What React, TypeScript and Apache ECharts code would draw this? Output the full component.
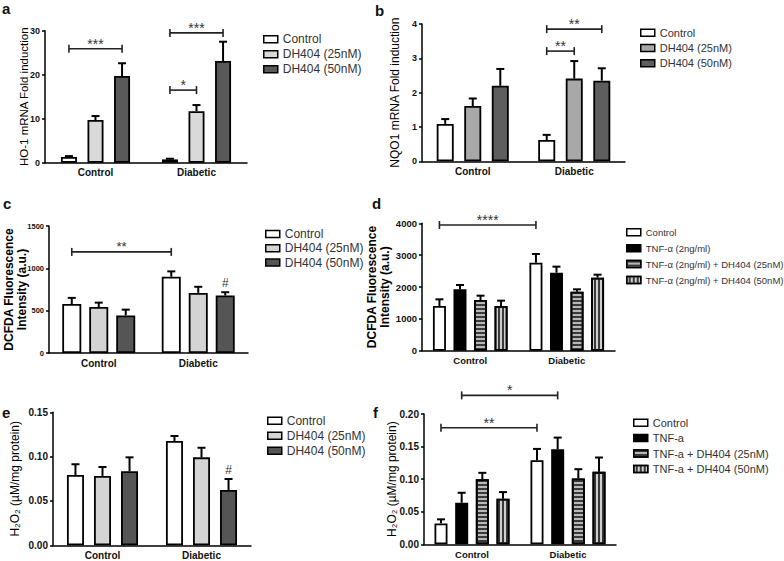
import { useEffect, useRef } from 'react';
import * as echarts from 'echarts';

const FONT = '"Liberation Sans", Arial, Helvetica, sans-serif';
const groupLabels = ['Control', 'Diabetic'];

// ---- Panel a: HO-1 mRNA fold induction
const aNames = ['Control', 'DH404 (25nM)', 'DH404 (50nM)'];
const aMean = [[1.3, 0.75], [9.7, 11.7], [19.7, 23.1]];
const aSem = [[0.2, 0.15], [0.9, 1.4], [2.9, 4.4]];
const aTicks = [0, 10, 20, 30];
const aBrackets = [
  { from: [0, 0], to: [0, 2], y: 25.9, label: '***' },
  { from: [1, 0], to: [1, 2], y: 29.5, label: '***' },
  { from: [1, 0], to: [1, 1], y: 16.5, label: '*' },
];

// ---- Panel b: NQO1 mRNA fold induction
const bNames = ['Control', 'DH404 (25nM)', 'DH404 (50nM)'];
const bMean = [[1.09, 0.62], [1.61, 2.41], [2.2, 2.35]];
const bSem = [[0.14, 0.15], [0.22, 0.51], [0.49, 0.36]];
const bTicks = [0, 1, 2, 3, 4];
const bBrackets = [
  { from: [1, 0], to: [1, 2], y: 3.85, label: '**' },
  { from: [1, 0], to: [1, 1], y: 3.21, label: '**' },
];

// ---- Panel c: DCFDA fluorescence
const cNames = ['Control', 'DH404 (25nM)', 'DH404 (50nM)'];
const cMean = [[579, 901], [544, 710], [444, 679]];
const cSem = [[72, 63], [51, 72], [68, 39]];
const cTicks = [0, 500, 1000, 1500];
const cBrackets = [{ from: [0, 0], to: [1, 0], y: 1194, label: '**' }];
const cMarks = [{ at: [1, 2], label: '#' }];

// ---- Panel d: DCFDA fluorescence with TNF-α
const dNames = ['Control', 'TNF-α (2ng/ml)', 'TNF-α (2ng/ml) + DH404 (25nM)', 'TNF-α (2ng/ml) + DH404 (50nM)'];
const dMean = [[1403, 2764], [1927, 2450], [1592, 1853], [1403, 2293]];
const dSem = [[210, 273], [136, 189], [136, 74], [168, 94]];
const dTicks = [0, 1000, 2000, 3000, 4000];
const dBrackets = [{ from: [0, 0], to: [1, 0], y: 3948, label: '****' }];

// ---- Panel e: H2O2
const eNames = ['Control', 'DH404 (25nM)', 'DH404 (50nM)'];
const eMean = [[0.0793, 0.1177], [0.0782, 0.0992], [0.0835, 0.0624]];
const eSem = [[0.0121, 0.0056], [0.0101, 0.0108], [0.0157, 0.0124]];
const eTicks = [0, 0.05, 0.1, 0.15];
const eMarks = [{ at: [1, 2], label: '#' }];

// ---- Panel f: H2O2 with TNF-a
const fNames = ['Control', 'TNF-a', 'TNF-a + DH404 (25nM)', 'TNF-a + DH404 (50nM)'];
const fMean = [[0.0321, 0.129], [0.0638, 0.1459], [0.1, 0.101], [0.0699, 0.1112]];
const fSem = [[0.0062, 0.0174], [0.0153, 0.0179], [0.0097, 0.0143], [0.0102, 0.022]];
const fTicks = [0, 0.05, 0.1, 0.15, 0.2];
const fBrackets = [
  { from: [0, 0], to: [1, 0], y: 0.179, label: '**' },
  { from: [0, 1], to: [1, 1], y: 0.2286, label: '*' },
];

const panelData = [
  { key: 'a', names: aNames, mean: aMean, sem: aSem, ticks: aTicks, decimals: 0, brackets: aBrackets, marks: [], title: 'HO-1 mRNA Fold induction' },
  { key: 'b', names: bNames, mean: bMean, sem: bSem, ticks: bTicks, decimals: 0, brackets: bBrackets, marks: [], title: 'NQO1 mRNA Fold induction' },
  { key: 'c', names: cNames, mean: cMean, sem: cSem, ticks: cTicks, decimals: 0, brackets: cBrackets, marks: cMarks, title: 'DCFDA Fluorescence\nIntensity (a.u.)' },
  { key: 'd', names: dNames, mean: dMean, sem: dSem, ticks: dTicks, decimals: 0, brackets: dBrackets, marks: [], title: 'DCFDA Fluorescence\nIntensity (a.u.)' },
  { key: 'e', names: eNames, mean: eMean, sem: eSem, ticks: eTicks, decimals: 2, brackets: [], marks: eMarks, title: 'H₂O₂ (µM/mg protein)' },
  { key: 'f', names: fNames, mean: fMean, sem: fSem, ticks: fTicks, decimals: 2, brackets: fBrackets, marks: [], title: 'H₂O₂ (µM/mg protein)' },
];

const hStripe = { symbol: 'rect', symbolSize: 1, dashArrayX: [1, 0], dashArrayY: [1.5, 1.5], color: '#3a3a3a' };
const vStripe = { symbol: 'rect', symbolSize: 1, dashArrayX: [1, 0], dashArrayY: [1.5, 1.5], rotation: Math.PI / 2, color: '#3a3a3a' };

const layouts: any = {
  a: { left: 45, top: 30.7, width: 202, height: 132, barW: 16, gap: 0.66, colors: ['#ffffff', '#d9d9d9', '#595959'],
    legend: { left: 263, top: 33.3, fontSize: 12, lh: 12, gap: 3 }, yLab: 9, xLab: 10, tSize: 11.5, tWeight: 'normal', nameGap: 15, letter: [2, 8.5], starSize: 14 },
  b: { left: 422, top: 24, width: 203, height: 137.3, barW: 17, gap: 0.62, colors: ['#ffffff', '#a8a8a8', '#5e5e5e'],
    legend: { left: 640, top: 26.7, fontSize: 11, lh: 12, gap: 3.3 }, yLab: 9, xLab: 10, tSize: 12, tWeight: 'normal', nameGap: 21, letter: [375, 10], starSize: 14 },
  c: { left: 49, top: 226, width: 199, height: 127, barW: 19, gap: 0.42, colors: ['#ffffff', '#d4d4d4', '#555555'],
    legend: { left: 265, top: 228, fontSize: 12, lh: 12, gap: 2.3 }, yLab: 7.5, xLab: 10, tSize: 12, tWeight: 'bold', nameGap: 21, letter: [3, 203], starSize: 13 },
  d: { left: 422, top: 223.3, width: 193, height: 127.4, barW: 13, gap: 0.58, colors: ['#ffffff', '#000000', '#b8b8b8', '#cfcfcf'],
    decals: [null, null, hStripe, vStripe],
    legend: { left: 626, top: 226.8, fontSize: 9.5, lh: 11, gap: 4.9 }, yLab: 9.5, xLab: 9.5, tSize: 12, tWeight: 'bold', nameGap: 31, letter: [372, 203], starSize: 14 },
  e: { left: 53, top: 412.3, width: 198, height: 133, barW: 17, gap: 0.59, colors: ['#ffffff', '#d4d4d4', '#555555'],
    legend: { left: 267, top: 414.7, fontSize: 12, lh: 12, gap: 3 }, yLab: 10, xLab: 10, tSize: 12, tWeight: 'normal', nameGap: 32, letter: [2, 412], starSize: 14 },
  f: { left: 424, top: 414, width: 192, height: 130.3, barW: 13, gap: 0.59, colors: ['#ffffff', '#000000', '#b8b8b8', '#cfcfcf'],
    decals: [null, null, hStripe, vStripe],
    legend: { left: 633, top: 416.7, fontSize: 11, lh: 12, gap: 3.4 }, yLab: 10, xLab: 9.5, tSize: 12, tWeight: 'normal', nameGap: 26, letter: [373, 412], starSize: 14 },
};

function buildOption() {
  const option: any = {
    animation: false,
    backgroundColor: '#ffffff',
    grid: [], xAxis: [], yAxis: [], legend: [], series: [], graphic: [],
  };
  panelData.forEach((p, i) => {
    const L = layouts[p.key];
    const n = p.names.length;
    const step = L.barW * (1 + L.gap);
    const off = (s: number) => (s - (n - 1) / 2) * step;
    const axisLine = { color: '#000', width: 1.5 };

    option.grid.push({ left: L.left, top: L.top, width: L.width, height: L.height });
    option.xAxis.push({
      gridIndex: i, type: 'category', data: groupLabels,
      axisLine: { lineStyle: axisLine },
      axisTick: { alignWithLabel: true, length: 3, lineStyle: axisLine },
      axisLabel: { fontWeight: 'bold', fontSize: L.xLab, color: '#111', margin: 5, fontFamily: FONT },
    });
    const t = p.ticks;
    option.yAxis.push({
      gridIndex: i, type: 'value', min: t[0], max: t[t.length - 1], interval: t[1] - t[0],
      splitLine: { show: false },
      axisLine: { show: true, lineStyle: axisLine },
      axisTick: { show: true, length: 3, lineStyle: axisLine },
      axisLabel: { fontWeight: 'bold', fontSize: L.yLab, color: '#111', margin: 5, fontFamily: FONT,
        formatter: (v: number) => v.toFixed(p.decimals) },
      name: p.title, nameLocation: 'middle', nameGap: L.nameGap, nameRotate: 90, nameMoveOverlap: false,
      nameTextStyle: { fontSize: L.tSize, fontWeight: L.tWeight, color: '#000', fontFamily: FONT, lineHeight: 13 },
    });

    p.names.forEach((nm, si) => {
      const itemStyle: any = { color: L.colors[si], borderColor: '#000', borderWidth: 1.8 };
      if (L.decals && L.decals[si]) itemStyle.decal = L.decals[si];
      option.series.push({
        type: 'bar', name: `${p.key}|${nm}`, xAxisIndex: i, yAxisIndex: i,
        data: p.mean[si], barWidth: L.barW, barGap: `${Math.round(L.gap * 100)}%`,
        itemStyle, silent: true, z: 2,
      });
    });

    const errData: number[][] = [];
    p.mean.forEach((row, si) => row.forEach((m, g) => errData.push([g, m + p.sem[si][g], m, si])));
    option.series.push({
      type: 'custom', xAxisIndex: i, yAxisIndex: i, silent: true, z: 3,
      dimensions: ['g', 'top', 'mean', 's'], encode: { x: 'g', y: 'top' },
      data: errData,
      renderItem: (params: any, api: any) => {
        const g = api.value(0), top = api.value(1), m = api.value(2), s = api.value(3);
        const base = api.coord([g, m]);
        const x = base[0] + off(s);
        const yT = api.coord([g, top])[1];
        const st = { stroke: '#000', lineWidth: 2 };
        return {
          type: 'group', children: [
            { type: 'line', shape: { x1: x, y1: base[1], x2: x, y2: yT }, style: st },
            { type: 'line', shape: { x1: x - 4, y1: yT, x2: x + 4, y2: yT }, style: st },
          ],
        };
      },
    });

    if (p.brackets.length) {
      const bData = p.brackets.map((b) => [b.from[0], b.from[1], b.to[0], b.to[1], b.y]);
      option.series.push({
        type: 'custom', xAxisIndex: i, yAxisIndex: i, silent: true, z: 4, clip: false,
        dimensions: ['g1', 's1', 'g2', 's2', 'y'], encode: { x: 'g1', y: 'y' },
        data: bData,
        renderItem: (params: any, api: any) => {
          const g1 = api.value(0), s1 = api.value(1), g2 = api.value(2), s2 = api.value(3), y = api.value(4);
          const p1 = api.coord([g1, y]);
          const p2 = api.coord([g2, y]);
          const x1 = p1[0] + off(s1), x2 = p2[0] + off(s2), yy = p1[1];
          const st = { stroke: '#222', lineWidth: 1.6 };
          return {
            type: 'group', children: [
              { type: 'line', shape: { x1, y1: yy, x2, y2: yy }, style: st },
              { type: 'line', shape: { x1, y1: yy - 4, x2: x1, y2: yy + 4 }, style: st },
              { type: 'line', shape: { x1: x2, y1: yy - 4, x2, y2: yy + 4 }, style: st },
              { type: 'text', x: (x1 + x2) / 2, y: yy - 5,
                style: { text: p.brackets[params.dataIndex].label, align: 'center', verticalAlign: 'middle',
                  fontSize: L.starSize, fontFamily: FONT, fill: '#333' } },
            ],
          };
        },
      });
    }

    if (p.marks.length) {
      const mData = p.marks.map((mk) => [mk.at[0], p.mean[mk.at[1]][mk.at[0]] + p.sem[mk.at[1]][mk.at[0]], mk.at[1]]);
      option.series.push({
        type: 'custom', xAxisIndex: i, yAxisIndex: i, silent: true, z: 4,
        dimensions: ['g', 'top', 's'], encode: { x: 'g', y: 'top' },
        data: mData,
        renderItem: (params: any, api: any) => {
          const g = api.value(0), top = api.value(1), s = api.value(2);
          const c = api.coord([g, top]);
          return { type: 'text', x: c[0] + off(s), y: c[1] - 9,
            style: { text: p.marks[params.dataIndex].label, align: 'center', verticalAlign: 'middle',
              fontSize: 12, fontFamily: FONT, fill: '#333' } };
        },
      });
    }

    option.legend.push({
      orient: 'vertical', left: L.legend.left, top: L.legend.top, padding: 0,
      icon: 'rect', itemWidth: 14, itemHeight: 7, itemGap: L.legend.gap, selectedMode: false,
      data: p.names.map((nm) => `${p.key}|${nm}`),
      formatter: (name: string) => name.split('|')[1],
      textStyle: { fontSize: L.legend.fontSize, lineHeight: L.legend.lh, color: '#333', fontFamily: FONT },
      itemStyle: { borderColor: '#000', borderWidth: 1.5 },
    });

    option.graphic.push({
      type: 'text', x: L.letter[0], y: L.letter[1], silent: true,
      style: { text: p.key, align: 'left', verticalAlign: 'middle', fontSize: 15, fontWeight: 'bold', fontFamily: FONT, fill: '#111' },
    });
  });
  return option;
}

export default function App() {
  const ref = useRef<HTMLDivElement>(null);
  useEffect(() => {
    if (!ref.current) return;
    const chart = echarts.init(ref.current, undefined, { renderer: 'svg' });
    chart.setOption(buildOption());
    return () => chart.dispose();
  }, []);
  return <div ref={ref} style={{ position: 'absolute', left: 0, top: 0, width: 784, height: 561 }} />;
}
